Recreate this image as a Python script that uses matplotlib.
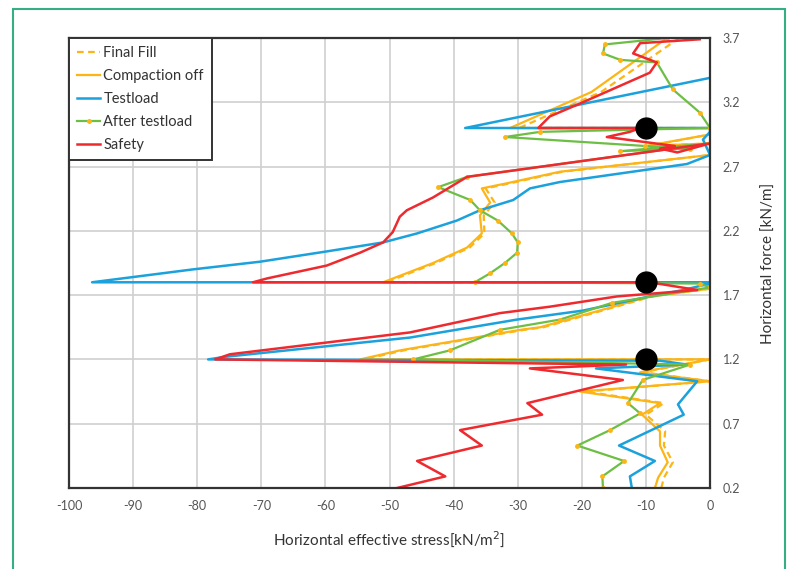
import matplotlib
matplotlib.use("Agg")
import matplotlib.pyplot as plt
from matplotlib.patches import Rectangle

plt.rcParams['font.family'] = ['Lato', 'DejaVu Sans']
plt.rcParams['axes.unicode_minus'] = False

# stress [kN/m2] and level values (bottom to top)
safety_x = [-48.8, -41.3, -45.7, -35.6, -39.0, -26.2, -28.5, -13.6, -28.1, -13.1, -77.2, -74.9,
            -46.8, -32.8, -25.0, -14.5, -2.0, -9.4, -71.3, -69.1, -59.8, -54.6, -51.0, -49.5,
            -48.4, -47.3, -43.2, -37.9, 0.0, -5.1, -7.8, -5.5, -16.1, -12.5, -10.9, -26.8,
            -25.0, -20.3, -9.4, -8.3, -12.0, -10.9, -1.6]
safety_y = [0.20, 0.29, 0.41, 0.53, 0.65, 0.77, 0.86, 1.04, 1.13, 1.16, 1.20, 1.24,
            1.41, 1.56, 1.61, 1.69, 1.74, 1.80, 1.80, 1.83, 1.93, 2.03, 2.11, 2.19,
            2.31, 2.36, 2.46, 2.62, 2.88, 2.81, 2.84, 2.86, 2.93, 2.97, 3.00, 3.00,
            3.09, 3.19, 3.43, 3.51, 3.58, 3.66, 3.69]

testload_x = [-12.2, -12.5, -8.6, -14.2, -8.3, -4.1, -5.0, -2.0, -17.8, -3.6, -7.8, -78.3,
              -75.7, -46.8, -30.1, -19.8, -9.4, -4.2, 0.0, 0.0, -96.4, -80.7, -70.2, -59.8,
              -51.0, -45.7, -39.5, -35.9, -30.7, -28.1, -23.4, -3.6, 0.0, -1.1, 0.0, 0.0,
              -38.2, 0.0]
testload_y = [0.20, 0.29, 0.41, 0.53, 0.67, 0.77, 0.85, 1.03, 1.13, 1.16, 1.19, 1.20,
              1.22, 1.37, 1.51, 1.58, 1.69, 1.74, 1.79, 1.80, 1.80, 1.90, 1.96, 2.04,
              2.11, 2.18, 2.28, 2.36, 2.44, 2.53, 2.58, 2.72, 2.79, 2.91, 2.97, 3.00,
              3.00, 3.39]

compaction_x = [-8.6, -8.1, -6.6, -7.8, -7.8, -10.6, -7.8, -20.3, 0.0, -10.9, 0.0, -54.6,
                -48.4, -39.0, -29.6, -26.5, -9.4, 0.0, -0.8, -51.0, -43.2, -37.9, -35.6, -35.9,
                -34.3, -35.6, -31.7, -23.4, 0.0, 0.0, -10.0, 0.0, 0.0, -31.2, -18.5, -6.7]
compaction_y = [0.20, 0.28, 0.40, 0.53, 0.64, 0.77, 0.86, 0.95, 1.03, 1.10, 1.20, 1.20,
                1.27, 1.35, 1.43, 1.45, 1.69, 1.75, 1.80, 1.80, 1.95, 2.07, 2.18, 2.32,
                2.42, 2.53, 2.57, 2.66, 2.79, 2.88, 2.86, 2.95, 3.00, 3.00, 3.28, 3.70]

finalfill_x = [-7.6, -7.2, -5.8, -7.2, -7.0, -10.0, -7.2, -19.5, 0.0, -10.5, 0.0, -54.0,
               -47.8, -38.5, -29.0, -26.0, -9.0, 0.0, -0.8, -50.5, -42.8, -37.5, -35.2, -35.3,
               -33.6, -35.0, -31.2, -23.0, 0.0, 0.0, -9.6, 0.0, 0.0, -29.8, -17.0, -4.8]
finalfill_y = compaction_y

after_x = [-16.7, -16.8, -13.4, -20.7, -15.6, -10.9, -12.8, -10.5, -3.1, -46.3, -40.6, -32.8,
           -23.4, -15.3, 0.0, -1.6, -36.7, -34.3, -32.0, -30.1, -30.0, -30.9, -33.1, -35.9,
           -37.4, -42.4, -37.9, 0.0, -14.0, -3.1, -10.1, -32.0, -26.5, 0.0, -1.6, -5.8,
           -8.3, -14.0, -16.7, -16.4, -6.7]
after_y = [0.20, 0.29, 0.41, 0.53, 0.65, 0.78, 0.86, 1.04, 1.16, 1.20, 1.27, 1.43,
           1.51, 1.64, 1.76, 1.79, 1.80, 1.87, 1.95, 2.03, 2.11, 2.18, 2.28, 2.36,
           2.44, 2.54, 2.62, 2.88, 2.82, 2.84, 2.86, 2.93, 2.97, 3.00, 3.12, 3.30,
           3.51, 3.53, 3.58, 3.65, 3.70]

dots_x = [-10, -10, -10]
dots_y = [3.0, 1.8, 1.2]

x_ticks = list(range(-100, 1, 10))
y_ticks = [0.2, 0.7, 1.2, 1.7, 2.2, 2.7, 3.2, 3.7]

orange = '#FDB515'
blue = '#1BA1DC'
green = '#6DBE45'
red = '#EE2A2F'

fig = plt.figure(figsize=(7.96, 5.69), dpi=100)
ax = fig.add_axes([0.0867, 0.1424, 0.8053, 0.7908])

ax.plot(finalfill_x, finalfill_y, color=orange, lw=1.6, ls=(0, (3, 2)), label='Final Fill')
ax.plot(compaction_x, compaction_y, color=orange, lw=1.6, label='Compaction off')
ax.plot(testload_x, testload_y, color=blue, lw=1.8, label='Testload')
ax.plot(after_x, after_y, color=green, lw=1.6, marker='o', ms=2.5,
        mfc=orange, mec=orange, label='After testload')
ax.plot(safety_x, safety_y, color=red, lw=1.8, label='Safety')
ax.plot(dots_x, dots_y, 'o', color='black', ms=15, zorder=10)

ax.set_xlim(-100, 0)
ax.set_ylim(0.2, 3.7)
ax.set_xticks(x_ticks)
ax.set_yticks(y_ticks)
ax.set_yticklabels([f'{v:.1f}' for v in y_ticks])
ax.yaxis.tick_right()
ax.yaxis.set_label_position('right')
ax.tick_params(length=0, labelsize=9, colors='#555555', pad=9)
ax.grid(True, color='#cfcfcf', lw=1.2)
ax.set_axisbelow(True)
for s in ax.spines.values():
    s.set_color('#333333')
    s.set_linewidth(1.6)

ax.set_xlabel('Horizontal effective stress[kN/m$^2$]', fontsize=11, color='#333333', labelpad=12)
ax.set_ylabel('Horizontal force [kN/m]', fontsize=11, color='#333333', labelpad=16)

leg = ax.legend(loc='upper left', fontsize=10.5, handlelength=1.6, handletextpad=0.2,
                borderaxespad=0, fancybox=False, framealpha=1, borderpad=0.55,
                labelspacing=0.62, numpoints=1)
leg.get_frame().set_edgecolor('#333333')
leg.get_frame().set_linewidth(1.4)
for t in leg.get_texts():
    t.set_color('#333333')

# green frame around the figure
fig.patches.append(Rectangle((13 / 796, -0.05), (785 - 13) / 796, 1.05 - 9 / 569,
                             transform=fig.transFigure, fill=False,
                             edgecolor='#34AE82', lw=1.5))

fig.savefig('out.png', dpi=100)
